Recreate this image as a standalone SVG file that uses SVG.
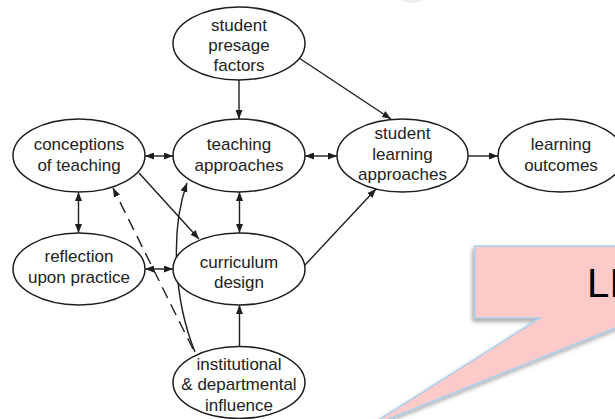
<svg xmlns="http://www.w3.org/2000/svg" width="615" height="419" viewBox="0 0 615 419">
<style>
.node ellipse{fill:#fff;stroke:#1e1e1e;stroke-width:1.5}
.node text{font-family:"Liberation Sans",Arial,sans-serif;font-size:17px;fill:#222;text-anchor:middle}
.edge{fill:none;stroke:#1e1e1e;stroke-width:1.4}
.dash{stroke-dasharray:12 7}
</style>
<defs>
<marker id="ah" markerUnits="userSpaceOnUse" markerWidth="9" markerHeight="7" refX="9" refY="3.5" orient="auto-start-reverse">
<path d="M0,0 L9,3.5 L0,7 z" fill="#1e1e1e"/>
</marker>
<filter id="sh" x="-10%" y="-10%" width="130%" height="130%">
<feDropShadow dx="-2" dy="3" stdDeviation="2" flood-color="#000" flood-opacity="0.35"/>
</filter>
</defs>
<path d="M400,0 Q412,6 424,0 Z" fill="#eeeeee"/>
<g id="callout">
<path d="M475,246 L660,246 L660,318 L640,318 L366,428 L540,318 L475,318 Z" fill="#fdcaca" stroke="#a9cfee" stroke-width="1.5" filter="url(#sh)"/>
<text x="587" y="297" font-family="'Liberation Sans',Arial,sans-serif" font-size="40" fill="#000">LI</text>
</g>
<g id="connectors">
<line class="edge" x1="239" y1="80" x2="239" y2="119" marker-end="url(#ah)"/>
<line class="edge" x1="299" y1="58" x2="391" y2="119" marker-end="url(#ah)"/>
<line class="edge" x1="145" y1="156" x2="173" y2="156" marker-start="url(#ah)" marker-end="url(#ah)"/>
<line class="edge" x1="305" y1="156" x2="337" y2="156" marker-start="url(#ah)" marker-end="url(#ah)"/>
<line class="edge" x1="468" y1="156" x2="498" y2="156" marker-end="url(#ah)"/>
<line class="edge" x1="78.5" y1="192" x2="78.5" y2="233" marker-start="url(#ah)" marker-end="url(#ah)"/>
<line class="edge" x1="239.5" y1="192" x2="239.5" y2="233" marker-start="url(#ah)" marker-end="url(#ah)"/>
<line class="edge" x1="145" y1="269" x2="173" y2="269" marker-start="url(#ah)" marker-end="url(#ah)"/>
<line class="edge" x1="139" y1="173" x2="199" y2="239" marker-end="url(#ah)"/>
<line class="edge" x1="305" y1="265" x2="376" y2="189" marker-end="url(#ah)"/>
<line class="edge" x1="239.5" y1="347" x2="239.5" y2="305" marker-end="url(#ah)"/>
<path class="edge" d="M195,352 C174,300 170,230 187,183" marker-end="url(#ah)"/>
<line class="edge dash" x1="193" y1="349" x2="113" y2="188" marker-end="url(#ah)"/>
</g>
<g id="presage" class="node">
<ellipse cx="239" cy="43.5" rx="66" ry="36.5"/>
<text x="239" y="31">student</text><text x="239" y="51">presage</text><text x="239" y="71">factors</text>
</g>
<g id="conceptions" class="node">
<ellipse cx="79" cy="155.5" rx="66" ry="36.5"/>
<text x="79" y="150">conceptions</text><text x="79" y="171">of teaching</text>
</g>
<g id="teaching" class="node">
<ellipse cx="239" cy="155.5" rx="66" ry="36.5"/>
<text x="239" y="150">teaching</text><text x="239" y="171">approaches</text>
</g>
<g id="learning-approaches" class="node">
<ellipse cx="402.5" cy="155.5" rx="65.5" ry="36.5"/>
<text x="402.5" y="139">student</text><text x="402.5" y="160">learning</text><text x="402.5" y="180">approaches</text>
</g>
<g id="outcomes" class="node">
<ellipse cx="561" cy="155.5" rx="63" ry="36.5"/>
<text x="561" y="150">learning</text><text x="561" y="171">outcomes</text>
</g>
<g id="reflection" class="node">
<ellipse cx="79" cy="269" rx="66" ry="36"/>
<text x="79" y="262">reflection</text><text x="79" y="283">upon practice</text>
</g>
<g id="curriculum" class="node">
<ellipse cx="239" cy="269" rx="66" ry="36"/>
<text x="239" y="268">curriculum</text><text x="239" y="288">design</text>
</g>
<g id="institutional" class="node">
<ellipse cx="239" cy="382.5" rx="66" ry="36"/>
<text x="239" y="370">institutional</text><text x="239" y="390">&amp; departmental</text><text x="239" y="411">influence</text>
</g>
</svg>
